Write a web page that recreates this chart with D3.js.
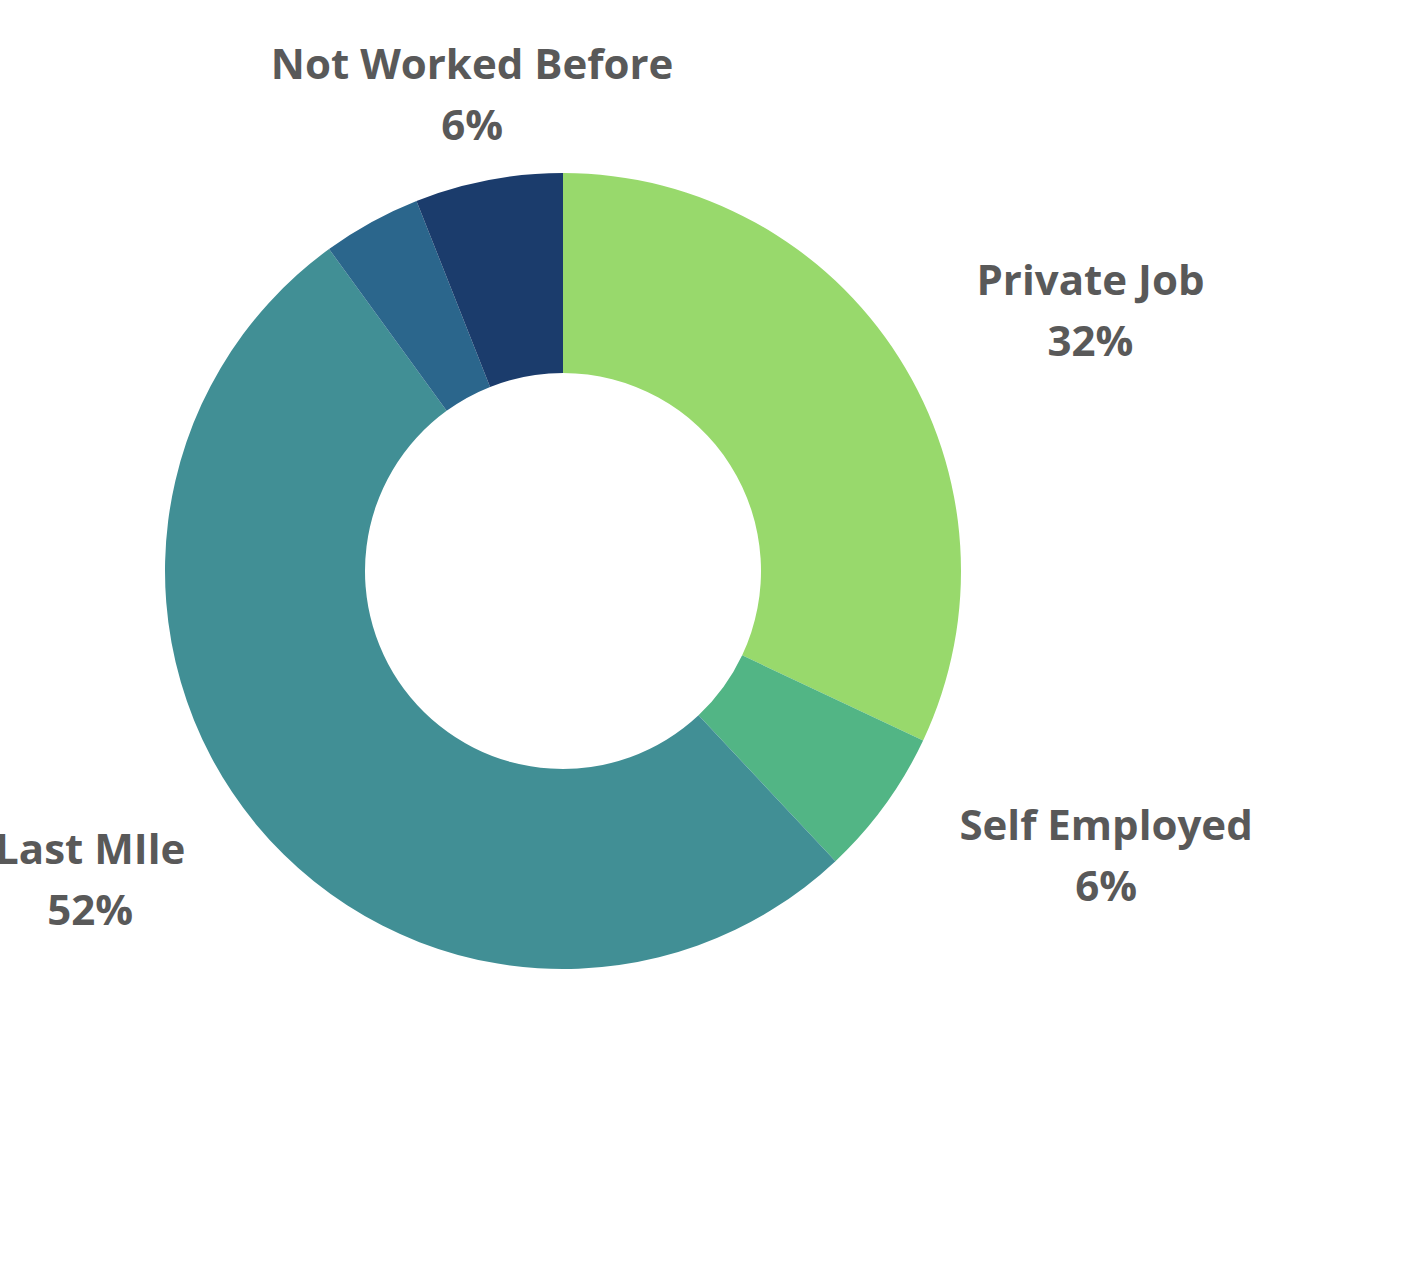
<!DOCTYPE html>
<html>
<head>
<meta charset="utf-8">
<script src="https://cdn.jsdelivr.net/npm/d3@7"></script>
<style>
  body { margin: 0; background: #fff; }
  text { font-family: "Open Sans", sans-serif; font-weight: 700; fill: #595959; }
</style>
</head>
<body>
<div id="chart"></div>
<script>
const categories = ["Private Job", "Self Employed", "Last MIle", "Other", "Not Worked Before"];
const shares = [32, 6, 52, 4, 6];
const showLabel = [true, true, true, false, true];
const colors = ["#98d96c", "#52b585", "#418f95", "#2b668c", "#1b3c6c"];

function init() {
    const width = 1404;
    const height = 1288;
    const cx = 563, cy = 571;
    const outerR = 398, innerR = 198, labelR = 485;

    const data = categories.map((c, i) => ({ name: c, value: shares[i], show: showLabel[i], color: colors[i] }));

    const svg = d3.select("#chart")
        .append("svg")
        .attr("width", width)
        .attr("height", height);

    const g = svg.append("g").attr("transform", `translate(${cx},${cy})`);

    const pie = d3.pie().value(d => d.value).sort(null);
    const arc = d3.arc().innerRadius(innerR).outerRadius(outerR);

    const arcs = pie(data);

    g.selectAll("path")
        .data(arcs)
        .enter()
        .append("path")
        .attr("d", arc)
        .attr("fill", d => d.data.color);

    // labels: two lines, block anchored on a circle outside the donut
    arcs.filter(d => d.data.show).forEach(function (d) {
        const mid = (d.startAngle + d.endAngle) / 2;
        const s = Math.sin(mid), c = Math.cos(mid);
        const lg = g.append("g");
        lg.append("text").attr("text-anchor", "middle").attr("font-size", 42)
            .attr("y", -16).text(d.data.name);
        lg.append("text").attr("text-anchor", "middle").attr("font-size", 42)
            .attr("y", 45).text(d.data.value + "%");
        const w = d3.max(lg.selectAll("text").nodes(), n => n.getComputedTextLength());
        let x = labelR * s;
        if (s > 0.35) x += w / 2 + 4;
        else if (s < -0.35) x -= w / 2 + 4;
        lg.attr("transform", `translate(${x},${-labelR * c})`);
    });
}

window.onload = init;
</script>
</body>
</html>
